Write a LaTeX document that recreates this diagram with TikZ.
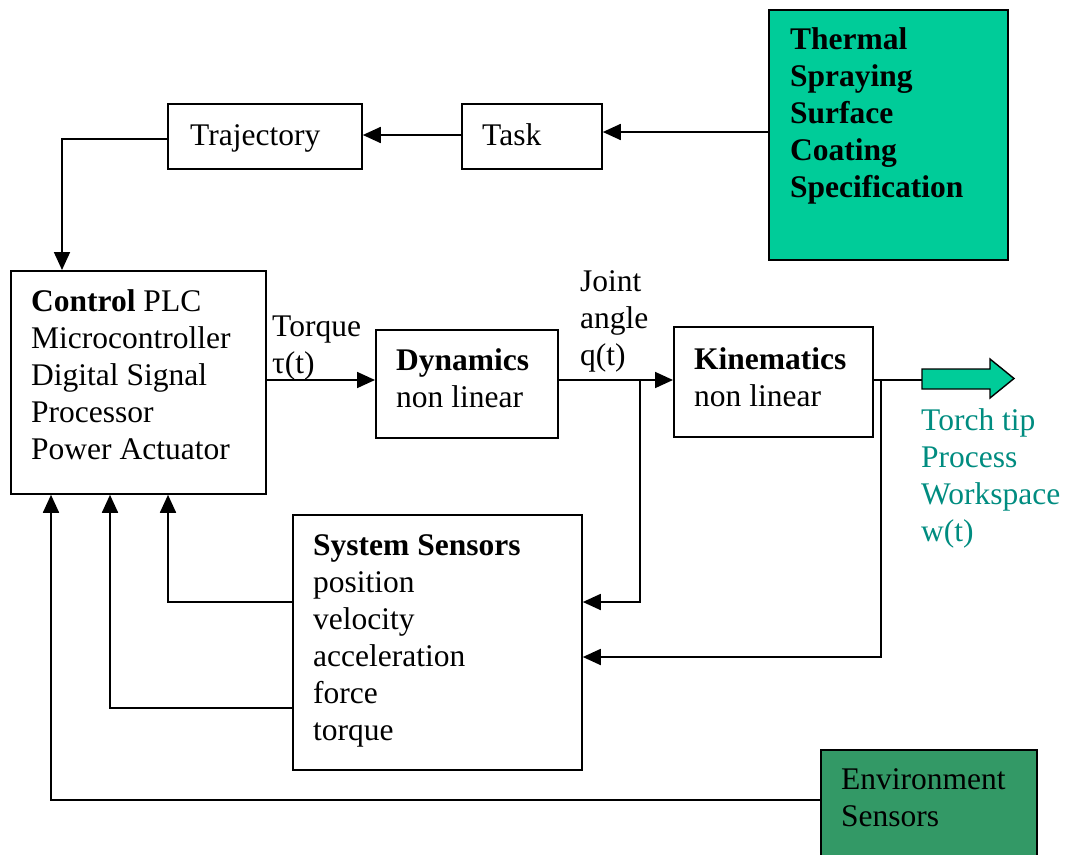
\documentclass[tikz,border=0pt]{standalone}
\usepackage{fontspec}
\setmainfont{Liberation Serif}
\usetikzlibrary{arrows.meta}
\newcommand{\mlines}[1]{\begin{tabular}[t]{@{}l@{}}#1\end{tabular}}
\definecolor{thermgreen}{RGB}{0,204,153}
\definecolor{envgreen}{RGB}{51,153,102}
\definecolor{tealtext}{RGB}{0,140,128}
\begin{document}
\begin{tikzpicture}[x=1pt,y=-1pt,
  box/.style={draw=black, line width=1.8pt, inner sep=0pt, anchor=north west},
  txt/.style={inner sep=0pt, anchor=base west, font=\fontsize{31.5}{37}\selectfont},
  arr/.style={line width=1.8pt, -{Triangle[length=18pt,width=16pt]}},
  ln/.style={line width=1.8pt}]
\useasboundingbox (0,0) rectangle (1073,854);
\clip (0,0) rectangle (1073,854);
% boxes
\node[box, minimum width=194, minimum height=65] (traj) at (167,103) {};
\node[box, minimum width=140, minimum height=65] (task) at (461,103) {};
\node[box, fill=thermgreen, minimum width=239, minimum height=250] (therm) at (768,9) {};
\node[box, minimum width=255, minimum height=223] (ctrl) at (10,270) {};
\node[box, minimum width=182, minimum height=108] (dyn) at (375,329) {};
\node[box, minimum width=199, minimum height=110] (kin) at (673,326) {};
\node[box, minimum width=289, minimum height=255] (sens) at (292,514) {};
\node[box, fill=envgreen, minimum width=216, minimum height=130] (env) at (820,749) {};
% texts
\node[txt] (trajT) at (190,145) {Trajectory};
\node[txt] (taskT) at (482,145) {Task};
\node[txt] (thermT) at (790,49) {\bfseries\mlines{Thermal\\Spraying\\Surface\\Coating\\Specification}};
\node[txt] (ctrlT) at (31,311) {\mlines{\textbf{Control} PLC\\Microcontroller\\Digital Signal\\Processor\\Power Actuator}};
\node[txt] (torqT) at (272,336) {\mlines{Torque\\τ(t)}};
\node[txt] (dynT) at (396,370) {\mlines{\textbf{Dynamics}\\non linear}};
\node[txt] (jointT) at (580,291) {\mlines{Joint\\angle\\q(t)}};
\node[txt] (kinT) at (694,369) {\mlines{\textbf{Kinematics}\\non linear}};
\node[txt] (sensT) at (313,555) {\mlines{\textbf{System Sensors}\\position\\velocity\\acceleration\\force\\torque}};
\node[txt] (envT) at (841,789) {\mlines{Environment\\Sensors}};
\node[txt, text=tealtext] (torchT) at (921,430) {\mlines{Torch tip\\Process\\Workspace\\w(t)}};
% connectors
\draw[arr] (therm.west |- 0,132) -- (task.east |- 0,132);
\draw[arr] (task.west |- 0,135) -- (traj.east |- 0,135);
\draw[arr] (traj.west |- 0,139) -| ([xshift=52pt]ctrl.north west);
\draw[arr] (ctrl.east |- 0,380) -- (dyn.west |- 0,380);
\draw[arr] (dyn.east |- 0,380) -- (kin.west |- 0,380);
\coordinate (j1) at (640,380);
\draw[arr] (j1) -- (640,602) -- (sens.east |- 0,602);
\coordinate (out) at (922,380);
\draw[ln] (kin.east |- 0,380) -- (out);
\coordinate (k1) at (881,380);
\draw[arr] (k1) -- (881,657) -- (sens.east |- 0,657);
\draw[arr] (sens.west |- 0,602) -| ([xshift=158pt]ctrl.south west);
\draw[arr] (sens.west |- 0,708) -| ([xshift=100pt]ctrl.south west);
\draw[arr] (env.west |- 0,800) -| ([xshift=41pt]ctrl.south west);
% block arrow
\draw[line width=1.4pt, fill=thermgreen] (out) ++(0,-11) -- (990,369) -- (990,359) -- (1014,378.5) -- (990,398) -- (990,389) -- (922,389) -- cycle;
\end{tikzpicture}
\end{document}
